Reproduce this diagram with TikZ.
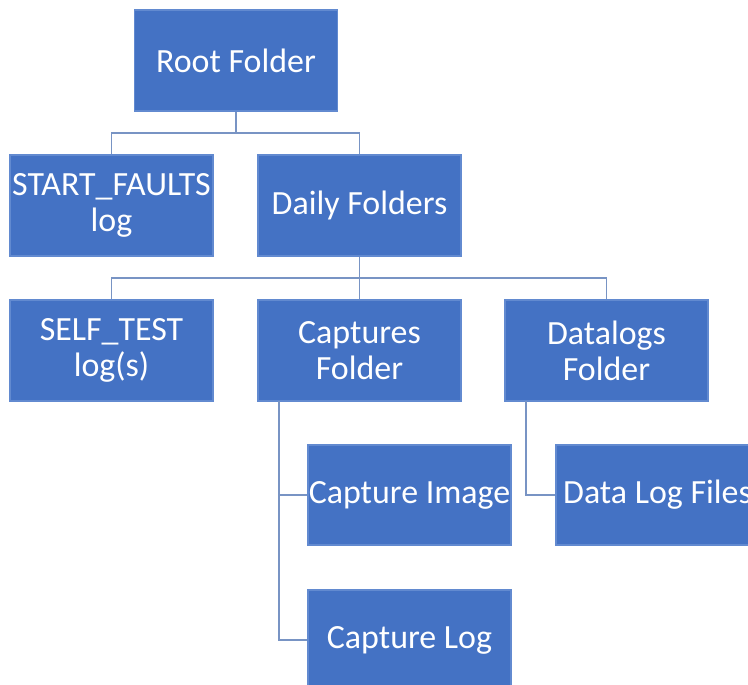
\documentclass[tikz,border=0pt]{standalone}
\usepackage{fontspec}
\setmainfont{Carlito}
\definecolor{boxblue}{RGB}{68,114,196}
\definecolor{boxedge}{RGB}{98,138,208}
\definecolor{linkblue}{RGB}{120,148,196}
\begin{document}
\begin{tikzpicture}[x=0.02cm, y=-0.02cm]
\tikzset{folder/.style={draw=boxedge, fill=boxblue, text=white, line width=0.6pt,
  minimum width=4.06cm, minimum height=2.02cm, inner sep=0pt, align=center,
  font=\fontsize{19.3}{20.4}\selectfont}}
\tikzset{link/.style={draw=linkblue, line width=0.8pt}}
\useasboundingbox (0,0) rectangle (748,684);
\clip (0,0) rectangle (748,684);
\node[folder] (Root) at (236,60.5) {Root Folder};
\node[folder] (Start) at (111.5,205.5) {START\_FAULTS\\log};
\node[folder] (Daily) at (359.5,205.5) {Daily Folders};
\node[folder] (Self) at (111.5,350.5) {SELF\_TEST\\log(s)};
\node[folder] (Captures) at (359.5,350.5) {Captures\\Folder};
\node[folder] (Datalogs) at (606.5,350.5) {Datalogs\\Folder};
\node[folder, minimum height=2cm] (CapImg) at (409.5,495) {Capture Image};
\node[folder, minimum height=2cm] (DataFiles) at (657.5,495) {Data Log Files};
\node[folder, minimum height=2cm] (CapLog) at (409.5,640) {Capture Log};
\coordinate (J1) at (236,133);
\coordinate (J2) at (359.5,278);
\coordinate (C1) at (279,401);
\coordinate (D1) at (526,401);
\draw[link] (Root.south) -- (J1);
\draw[link] (J1) -| (Start.north);
\draw[link] (J1) -| (Daily.north);
\draw[link] (Daily.south) -- (J2);
\draw[link] (J2) -| (Self.north);
\draw[link] (J2) -| (Captures.north);
\draw[link] (J2) -| (Datalogs.north);
\draw[link] (C1) |- (CapImg.west);
\draw[link] (C1) |- (CapLog.west);
\draw[link] (D1) |- (DataFiles.west);
\end{tikzpicture}
\end{document}
